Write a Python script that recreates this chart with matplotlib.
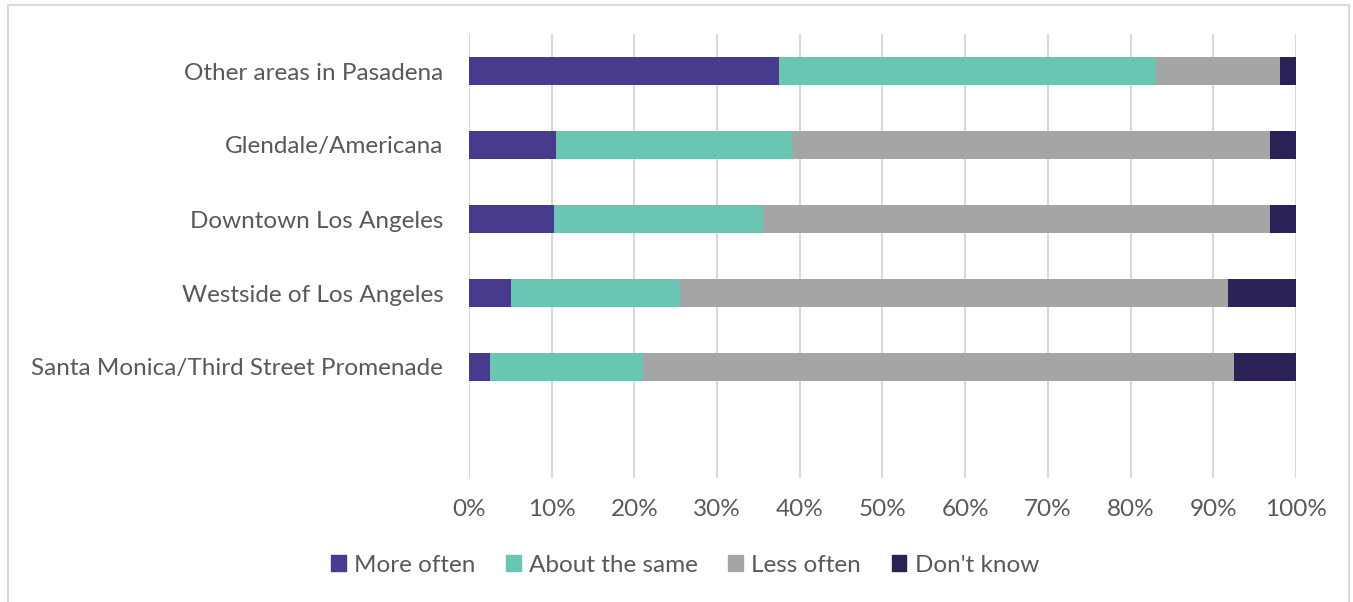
import matplotlib.pyplot as plt
import matplotlib.patches as mpatches
import numpy as np

# Survey responses by shopping area (percent of respondents)
areas = ['Other areas in Pasadena', 'Glendale/Americana', 'Downtown Los Angeles',
         'Westside of Los Angeles', 'Santa Monica/Third Street Promenade']
more_often = [37.5, 10.5, 10.3, 5.1, 2.5]
about_same = [45.6, 28.5, 25.3, 20.4, 18.6]
less_often = [15.0, 57.9, 61.2, 66.3, 71.4]
dont_know = [1.9, 3.1, 3.2, 8.2, 7.5]

series = ['More often', 'About the same', 'Less often', "Don't know"]
colors = ['#483A8C', '#68C6B2', '#A5A5A5', '#2B2157']

plt.rcParams['font.family'] = ['Lato', 'DejaVu Sans']
text_color = '#595959'

fig = plt.figure(figsize=(13.53, 6.02), dpi=100)
ax = fig.add_axes([469 / 1353, 1 - 478 / 602, (1296 - 469) / 1353, (478 - 34) / 602])

y = np.arange(len(areas))
left = np.zeros(len(areas))
for name, vals, col in zip(series, [more_often, about_same, less_often, dont_know], colors):
    ax.barh(y, vals, left=left, height=0.39, color=col, label=name, zorder=3)
    left += np.array(vals)

ax.set_xlim(0, 100)
ax.set_ylim(5.5, -0.5)
ax.set_xticks(np.arange(0, 101, 10))
ax.set_xticklabels([f'{v}%' for v in range(0, 101, 10)])
ax.set_yticks(y)
ax.set_yticklabels(areas)
ax.tick_params(axis='both', length=0, labelsize=17.5, colors=text_color)
ax.tick_params(axis='x', pad=15)
ax.tick_params(axis='y', pad=18.5)
ax.grid(axis='x', color='#D9D9D9', linewidth=1.5, zorder=0)
for s in ax.spines.values():
    s.set_visible(False)

handles = [mpatches.Patch(color=c, label=n) for n, c in zip(series, colors)]
fig.legend(handles=handles, loc='center', bbox_to_anchor=(685 / 1353, 1 - 565 / 602),
           ncol=4, frameon=False, fontsize=17.5, handlelength=0.6, handleheight=0.6,
           handletextpad=0.35, columnspacing=1.25, labelcolor=text_color)

# light frame around the chart area
frame = mpatches.Rectangle((8 / 1353, -0.05), (1349 - 8) / 1353, 1.05 - 5 / 602,
                           transform=fig.transFigure, fill=False,
                           edgecolor='#D9D9D9', linewidth=1.5)
fig.patches.append(frame)

fig.savefig('out.png', dpi=100, facecolor='white')
